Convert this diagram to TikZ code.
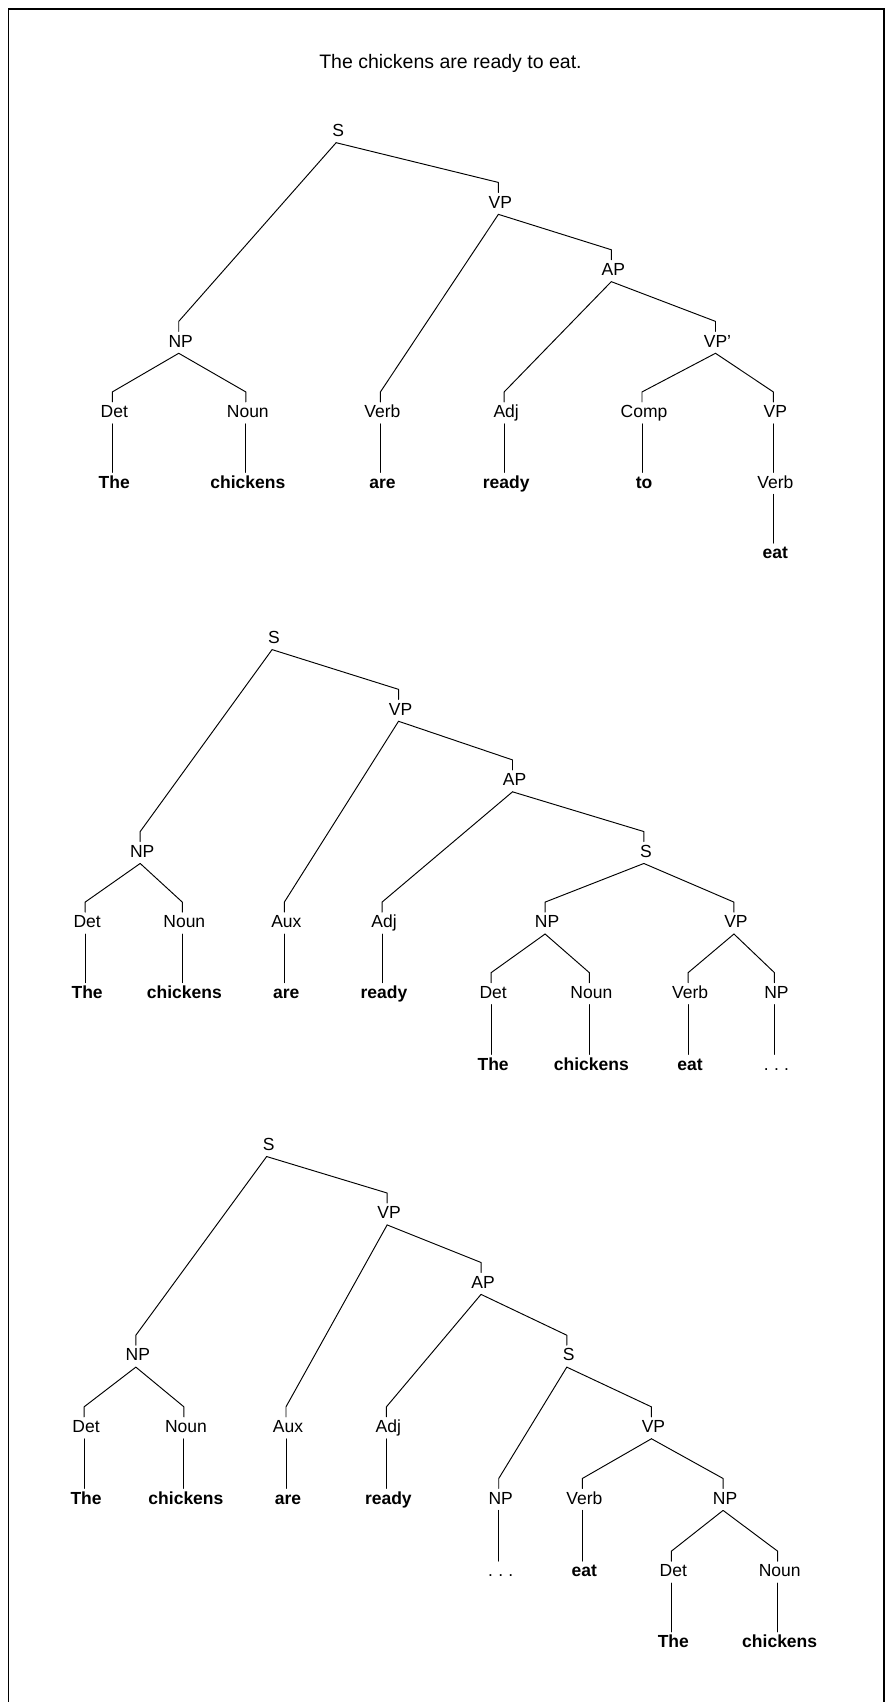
\documentclass[tikz,border=0pt]{standalone}
\usepackage{fontspec}
\setmainfont{Liberation Sans}
% parent-to-child branch: slanted run from below the parent, short drop onto the child
\newcommand\treeedge[2]{\draw[link] ([xshift=-2pt,yshift=-6pt]#1.south) -- ([xshift=-2pt,yshift=13pt]#2.north) -- ([xshift=-2pt,yshift=3pt]#2.north);}
\begin{document}
\begin{tikzpicture}[x=1.0854pt,y=-1.0854pt,
  lab/.style={font=\fontsize{17.5}{19}\selectfont, inner sep=0pt, text height=12.5pt, text depth=0pt},
  leaf/.style={font=\fontsize{17.5}{19}\selectfont\bfseries, inner sep=0pt, text height=12.5pt, text depth=0pt},
  titletext/.style={font=\fontsize{19.5}{21}\selectfont, inner sep=0pt, anchor=base},
  frame/.style={line width=1.6pt},
  link/.style={line width=0.95pt, line cap=round, line join=round}]
\useasboundingbox (0,0) rectangle (820,1568);
\draw[frame] (7.8,1568) -- (7.8,8.3) -- (814.4,8.3) -- (814.4,1568);

\node[titletext] (title) at (415,63) {The chickens are ready to eat.};

% ---------- first tree ----------
\node[lab] (aS)    at (311.5,120) {S};
\node[lab] (aVP)   at (461,186) {VP};
\node[lab] (aAP)   at (565,248) {AP};
\node[lab] (aNP)   at (166.5,314) {NP};
\node[lab] (aVPp)  at (661,314) {VP’};
\node[lab] (aDet)  at (105.3,379) {Det};
\node[lab] (aNoun) at (228.3,379) {Noun};
\node[lab] (aVerb) at (352.3,379) {Verb};
\node[lab] (aAdj)  at (466.3,379) {Adj};
\node[lab] (aComp) at (593.3,379) {Comp};
\node[lab] (aVPb)  at (714.3,379) {VP};
\node[leaf] (aThe) at (105.3,444) {The};
\node[leaf] (aChk) at (228.3,444) {chickens};
\node[leaf] (aAre) at (352.3,444) {are};
\node[leaf] (aRdy) at (466.3,444) {ready};
\node[leaf] (aTo)  at (593.3,444) {to};
\node[lab]  (aVerbb) at (714.3,444) {Verb};
\node[leaf] (aEat) at (714.3,509) {eat};

\treeedge{aS}{aNP}
\treeedge{aS}{aVP}
\treeedge{aVP}{aVerb}
\treeedge{aVP}{aAP}
\treeedge{aAP}{aAdj}
\treeedge{aAP}{aVPp}
\treeedge{aNP}{aDet}
\treeedge{aNP}{aNoun}
\treeedge{aVPp}{aComp}
\treeedge{aVPp}{aVPb}
\treeedge{aDet}{aThe}
\treeedge{aNoun}{aChk}
\treeedge{aVerb}{aAre}
\treeedge{aAdj}{aRdy}
\treeedge{aComp}{aTo}
\treeedge{aVPb}{aVerbb}
\treeedge{aVerbb}{aEat}

% ---------- second tree ----------
\node[lab] (bS)    at (252.5,587) {S};
\node[lab] (bVP)   at (369,653) {VP};
\node[lab] (bAP)   at (474,718) {AP};
\node[lab] (bNP)   at (131,784) {NP};
\node[lab] (bSb)   at (595,784) {S};
\node[lab] (bDet)  at (80.3,849) {Det};
\node[lab] (bNoun) at (169.8,849) {Noun};
\node[lab] (bAux)  at (263.8,849) {Aux};
\node[lab] (bAdj)  at (353.8,849) {Adj};
\node[lab] (bNPb)  at (504,849) {NP};
\node[lab] (bVPb)  at (678,849) {VP};
\node[leaf] (bThe) at (80.3,914) {The};
\node[leaf] (bChk) at (169.8,914) {chickens};
\node[leaf] (bAre) at (263.8,914) {are};
\node[leaf] (bRdy) at (353.8,914) {ready};
\node[lab] (bDetb)  at (454.3,914) {Det};
\node[lab] (bNounb) at (544.8,914) {Noun};
\node[lab] (bVerb)  at (635.8,914) {Verb};
\node[lab] (bNPc)   at (715.3,914) {NP};
\node[leaf] (bTheb) at (454.3,980) {The};
\node[leaf] (bChkb) at (544.8,980) {chickens};
\node[leaf] (bEat)  at (635.8,980) {eat};
\node[lab]  (bDots) at (715.3,980) {.\hspace{0.3em}.\hspace{0.3em}.};

\treeedge{bS}{bNP}
\treeedge{bS}{bVP}
\treeedge{bVP}{bAux}
\treeedge{bVP}{bAP}
\treeedge{bAP}{bAdj}
\treeedge{bAP}{bSb}
\treeedge{bNP}{bDet}
\treeedge{bNP}{bNoun}
\treeedge{bSb}{bNPb}
\treeedge{bSb}{bVPb}
\treeedge{bDet}{bThe}
\treeedge{bNoun}{bChk}
\treeedge{bAux}{bAre}
\treeedge{bAdj}{bRdy}
\treeedge{bNPb}{bDetb}
\treeedge{bNPb}{bNounb}
\treeedge{bVPb}{bVerb}
\treeedge{bVPb}{bNPc}
\treeedge{bDetb}{bTheb}
\treeedge{bNounb}{bChkb}
\treeedge{bVerb}{bEat}
\treeedge{bNPc}{bDots}

% ---------- third tree ----------
\node[lab] (cS)    at (247.5,1054) {S};
\node[lab] (cVP)   at (358.5,1117) {VP};
\node[lab] (cAP)   at (445,1181) {AP};
\node[lab] (cNP)   at (127,1248) {NP};
\node[lab] (cSb)   at (524,1248) {S};
\node[lab] (cDet)  at (79.3,1314) {Det};
\node[lab] (cNoun) at (171.3,1314) {Noun};
\node[lab] (cAux)  at (265.3,1314) {Aux};
\node[lab] (cAdj)  at (357.8,1314) {Adj};
\node[lab] (cVPb)  at (602,1314) {VP};
\node[leaf] (cThe) at (79.3,1380) {The};
\node[leaf] (cChk) at (171.3,1380) {chickens};
\node[leaf] (cAre) at (265.3,1380) {are};
\node[leaf] (cRdy) at (357.8,1380) {ready};
\node[lab] (cNPb)  at (461.3,1380) {NP};
\node[lab] (cVerb) at (538.3,1380) {Verb};
\node[lab] (cNPc)  at (668,1380) {NP};
\node[lab]  (cDots) at (461.3,1447) {.\hspace{0.3em}.\hspace{0.3em}.};
\node[leaf] (cEat)  at (538.3,1447) {eat};
\node[lab] (cDetb)  at (620.3,1447) {Det};
\node[lab] (cNounb) at (718.3,1447) {Noun};
\node[leaf] (cTheb) at (620.3,1512) {The};
\node[leaf] (cChkb) at (718.3,1512) {chickens};

\treeedge{cS}{cNP}
\treeedge{cS}{cVP}
\treeedge{cVP}{cAux}
\treeedge{cVP}{cAP}
\treeedge{cAP}{cAdj}
\treeedge{cAP}{cSb}
\treeedge{cNP}{cDet}
\treeedge{cNP}{cNoun}
\treeedge{cDet}{cThe}
\treeedge{cNoun}{cChk}
\treeedge{cAux}{cAre}
\treeedge{cAdj}{cRdy}
\treeedge{cSb}{cNPb}
\treeedge{cSb}{cVPb}
\treeedge{cNPb}{cDots}
\treeedge{cVPb}{cVerb}
\treeedge{cVPb}{cNPc}
\treeedge{cVerb}{cEat}
\treeedge{cNPc}{cDetb}
\treeedge{cNPc}{cNounb}
\treeedge{cDetb}{cTheb}
\treeedge{cNounb}{cChkb}
\end{tikzpicture}
\end{document}
